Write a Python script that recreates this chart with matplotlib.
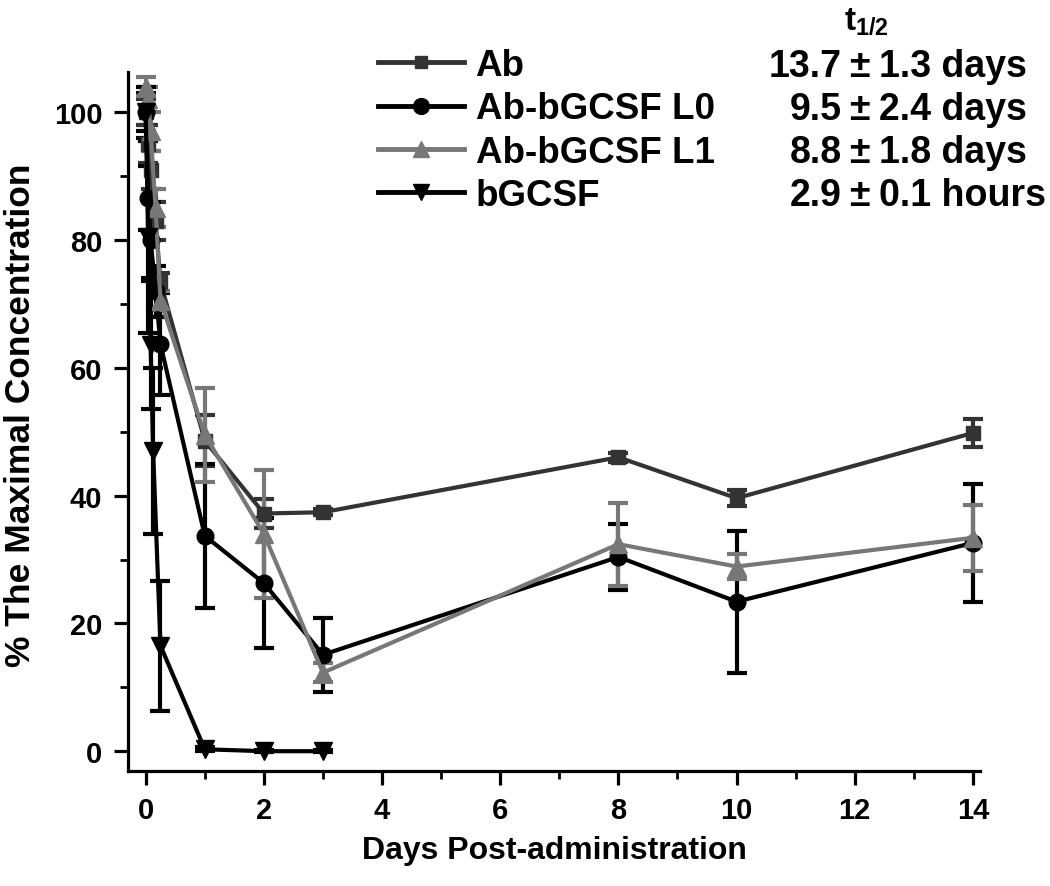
import matplotlib
matplotlib.use("Agg")
import matplotlib.pyplot as plt
from matplotlib.lines import Line2D
from matplotlib.ticker import MultipleLocator

FONT = "Liberation Sans"
plt.rcParams['font.family'] = [FONT, 'DejaVu Sans']
plt.rcParams['font.weight'] = 'bold'
plt.rcParams['mathtext.fontset'] = 'custom'
plt.rcParams['mathtext.bf'] = 'Liberation Sans:bold'
plt.rcParams['mathtext.rm'] = 'Liberation Sans:bold'

# ---- data ----
t_ab = [0, 0.042, 0.083, 0.167, 0.25, 1, 2, 3, 8, 10, 14]
ab = [100, 95, 91, 83, 73.4, 48.6, 37.2, 37.4, 46.0, 39.6, 49.8]
ab_err = [2, 3, 3, 3, 1.5, 4, 2.2, 0.5, 0.7, 1.3, 2.2]

t_l0 = [0, 0.042, 0.083, 0.167, 0.25, 1, 2, 3, 8, 10, 14]
l0 = [100, 86.6, 80, 72, 63.7, 33.7, 26.3, 15.1, 30.4, 23.4, 32.6]
l0_err = [3, 5, 6, 4, 8, 11.3, 10.2, 5.8, 5.2, 11.1, 9.2]

t_l1 = [0, 0.042, 0.083, 0.167, 0.25, 1, 2, 3, 8, 10, 14]
l1 = [104.0, 102, 97, 85, 70.5, 49.5, 34.0, 12.3, 32.4, 28.9, 33.4]
l1_err = [1.5, 2, 3, 3, 1.5, 7.4, 10.0, 1.5, 6.5, 2.0, 5.2]

t_bg = [0, 0.042, 0.083, 0.125, 0.25, 1, 2, 3]
bg = [100, 80.5, 63.6, 47.0, 16.5, 0.3, 0.0, 0.0]
bg_err = [4, 15, 10, 13, 10.2, 0.3, 0.2, 0.2]

labels = ["Ab", "Ab-bGCSF L0", "Ab-bGCSF L1", "bGCSF"]
half_num = ["13.7", "9.5", "8.8", "2.9"]
half_err = ["1.3 days", "2.4 days", "1.8 days", "0.1 hours"]
xticks = [0, 2, 4, 6, 8, 10, 12, 14]
yticks = [0, 20, 40, 60, 80, 100]

W, H = 1050, 887
fig = plt.figure(figsize=(W / 100, H / 100), dpi=100)
ax = fig.add_axes([128 / W, (H - 772) / H, 852 / W, (772 - 73) / H])

series = [
    (t_ab, ab, ab_err, '#333333', 's', 9.5),
    (t_l0, l0, l0_err, '#000000', 'o', 12),
    (t_l1, l1, l1_err, '#777777', '^', 12.5),
    (t_bg, bg, bg_err, '#000000', 'v', 12.5),
]
handles = []
for (t, v, e, c, m, ms) in series:
    ax.errorbar(t, v, yerr=e, color=c, marker=m, markersize=ms, lw=3,
                elinewidth=3, capsize=7, capthick=3, clip_on=False)
    handles.append(Line2D([], [], color=c, marker=m, markersize=ms * 0.95, lw=3.5))

ax.set_xlim(-0.30, 14.12)
ax.set_ylim(-3.1, 106.3)
ax.set_xticks(xticks)
ax.set_yticks(yticks)
ax.xaxis.set_minor_locator(MultipleLocator(1))
ax.yaxis.set_minor_locator(MultipleLocator(10))
for s in ['top', 'right']:
    ax.spines[s].set_visible(False)
for s in ['left', 'bottom']:
    ax.spines[s].set_linewidth(2.3)
ax.tick_params(which='major', direction='out', length=10, width=2.3, labelsize=21)
ax.tick_params(axis='y', which='major', pad=8.5)
ax.tick_params(axis='x', which='major', pad=8)
ax.tick_params(which='minor', direction='out', length=5.5, width=2.0)
for lab in ax.get_xticklabels() + ax.get_yticklabels():
    lab.set_fontweight('bold')

ax.set_xlabel("Days Post-administration", fontsize=23, fontweight='bold', labelpad=8)
ax.set_ylabel("% The Maximal Concentration", fontsize=25.5, fontweight='bold')
ax.yaxis.set_label_coords((37 - 128) / 852, 0.51)

leg = fig.legend(handles, labels, loc='center left', bbox_to_anchor=(378 / W, 1 - 131.5 / H),
                 frameon=False, handlelength=2.35, handletextpad=0.3,
                 labelspacing=0.22, borderaxespad=0, borderpad=0,
                 prop={'weight': 'bold', 'size': 26.5, 'family': FONT})

ys = [67, 110, 153, 196]
for y, num, err in zip(ys, half_num, half_err):
    fy = 1 - y / H
    fig.text(842 / W, fy, num, ha='right', va='center', fontsize=27, fontweight='bold')
    fig.text(859 / W, fy, "±", ha='center', va='center', fontsize=27, fontweight='bold')
    fig.text(879 / W, fy, err, ha='left', va='center', fontsize=27, fontweight='bold')
fig.text(866 / W, 1 - 22 / H, r"t$_{\mathbf{1/2}}$", ha='center', va='center',
         fontsize=24, fontweight='bold')

fig.savefig("out.png", dpi=100)
